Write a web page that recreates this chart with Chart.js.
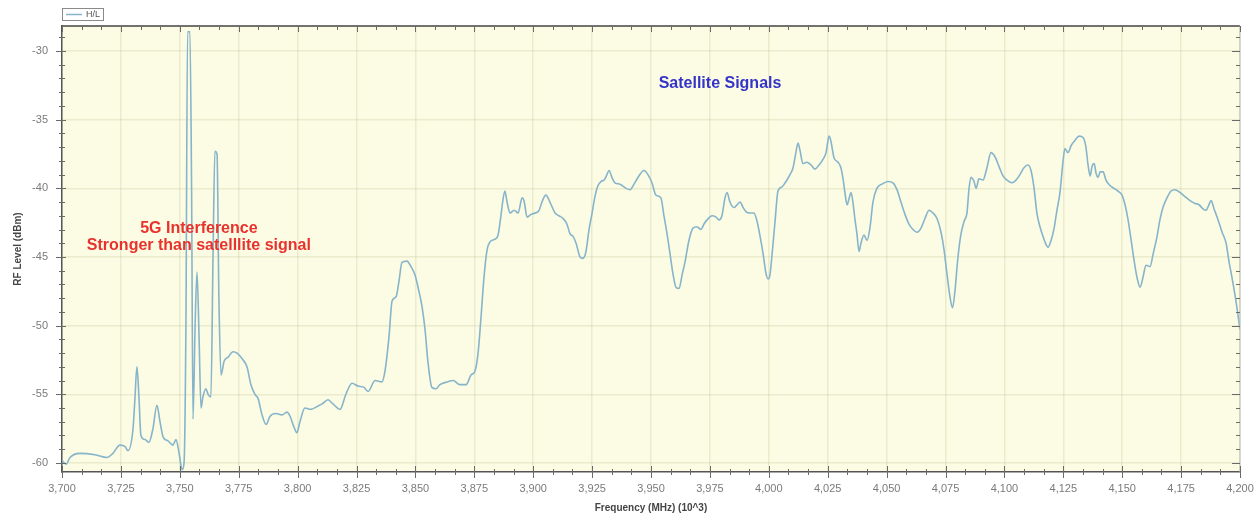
<!DOCTYPE html>
<html><head><meta charset="utf-8">
<script src="https://cdn.jsdelivr.net/npm/chart.js@4.4.1/dist/chart.umd.min.js"></script>
<style>html,body{margin:0;padding:0;background:#fff}#wrap{width:1257px;height:514px}</style>
</head><body><div id="wrap"><canvas id="c" width="1257" height="514"></canvas></div>
<script>
const seriesLabel = 'H/L';
const freqs = [
3700.0,3701.7,3703.4,3707.6,3714.0,3719.1,3721.6,3724.6,3726.7,3728.0,
3730.1,3730.9,3731.8,3732.6,3733.5,3735.2,3736.9,3738.6,3740.3,3741.6,
3742.9,3745.0,3747.1,3748.4,3749.7,3751.0,3751.8,3752.6,3753.3,3754.3,
3755.0,3755.6,3756.5,3757.3,3758.2,3759.0,3759.8,3761.1,3762.0,3763.2,
3764.1,3764.9,3765.8,3766.6,3767.5,3768.8,3770.5,3772.6,3774.3,3776.4,
3778.5,3780.2,3781.9,3783.2,3784.9,3786.6,3788.3,3790.8,3793.4,3795.5,
3796.8,3798.5,3799.7,3801.0,3803.1,3805.7,3808.2,3810.4,3812.9,3815.0,
3818.0,3820.5,3823.1,3825.6,3828.2,3829.9,3832.9,3835.8,3837.1,3838.8,
3840.1,3841.8,3843.0,3844.3,3846.4,3848.1,3849.8,3851.5,3852.8,3854.1,
3855.3,3857.0,3858.7,3860.4,3863.4,3866.0,3868.9,3871.5,3873.6,3875.3,
3876.6,3877.8,3879.1,3880.4,3881.7,3883.8,3885.1,3886.3,3887.2,3888.0,
3888.9,3890.2,3891.9,3893.6,3895.3,3896.1,3897.4,3899.1,3900.8,3902.5,
3903.7,3905.4,3907.1,3909.3,3910.9,3912.7,3914.3,3915.6,3916.9,3918.2,
3919.9,3921.1,3922.4,3923.7,3925.0,3926.2,3927.5,3928.8,3930.1,3931.3,
3932.2,3933.4,3934.7,3936.8,3939.4,3941.1,3942.8,3944.5,3947.0,3948.7,
3950.4,3952.1,3954.2,3955.5,3956.8,3958.1,3959.3,3960.6,3961.9,3963.2,
3964.4,3966.1,3967.8,3969.5,3971.2,3972.5,3973.8,3975.9,3977.6,3978.9,
3980.1,3981.4,3982.3,3983.5,3985.2,3986.5,3987.8,3989.1,3990.3,3992.0,
3993.7,3995.0,3996.3,3997.6,3998.8,3999.7,4000.5,4001.4,4002.6,4003.9,
4005.6,4007.3,4009.0,4010.3,4011.5,4012.4,4013.2,4014.5,4016.2,4017.9,
4019.6,4021.3,4023.0,4024.3,4025.6,4026.4,4027.7,4029.4,4030.6,4031.5,
4032.3,4033.2,4034.0,4034.9,4035.7,4036.6,4037.4,4038.3,4039.1,4040.4,
4041.7,4043.0,4044.2,4045.9,4048.0,4050.6,4052.7,4054.4,4056.1,4057.8,
4059.5,4061.2,4062.9,4064.6,4066.3,4068.0,4069.7,4071.4,4073.1,4074.4,
4075.6,4076.9,4078.0,4079.0,4080.3,4081.6,4082.9,4084.1,4085.0,4085.8,
4087.1,4088.0,4089.2,4090.9,4092.6,4094.3,4096.0,4097.7,4099.4,4101.1,
4103.2,4104.9,4106.6,4108.3,4110.0,4111.3,4112.6,4113.8,4115.1,4116.4,
4117.7,4118.5,4119.8,4121.1,4122.3,4123.6,4124.9,4125.7,4127.0,4128.3,
4130.0,4131.7,4133.4,4134.6,4135.5,4136.4,4137.2,4138.1,4138.9,4139.8,
4140.6,4141.9,4143.1,4144.8,4146.5,4148.2,4149.9,4151.2,4152.5,4153.8,
4155.0,4156.3,4157.6,4158.8,4160.1,4161.8,4163.1,4164.8,4166.0,4167.3,
4169.0,4170.7,4172.4,4174.5,4176.6,4178.8,4180.9,4182.6,4184.3,4185.6,
4186.8,4187.7,4189.0,4190.7,4192.4,4194.1,4195.3,4196.6,4197.9,4199.2,
4200.0];
const levels = [
-59.8,-60.1,-59.6,-59.3,-59.4,-59.6,-59.3,-58.7,-58.8,-59.1,
-57.6,-55.5,-53.0,-55.0,-58.0,-58.3,-58.5,-57.5,-55.8,-57.0,
-58.1,-58.4,-58.7,-58.3,-59.3,-60.5,-60.0,-50.0,-28.6,-28.6,
-40.0,-56.8,-50.0,-46.1,-51.0,-56.0,-55.2,-54.6,-55.0,-55.2,
-45.0,-37.3,-37.5,-48.0,-53.6,-52.6,-52.3,-51.9,-52.0,-52.4,
-53.0,-54.3,-55.0,-55.3,-56.5,-57.2,-56.6,-56.4,-56.5,-56.3,
-56.6,-57.4,-57.8,-57.0,-56.0,-56.1,-55.9,-55.7,-55.4,-55.7,
-56.1,-55.0,-54.2,-54.4,-54.5,-54.8,-54.0,-54.1,-53.3,-50.8,
-48.2,-47.9,-46.8,-45.4,-45.3,-45.7,-46.3,-47.5,-48.6,-50.3,
-52.6,-54.5,-54.6,-54.3,-54.1,-54.0,-54.3,-54.3,-53.6,-53.3,
-52.0,-49.5,-46.5,-44.5,-43.9,-43.7,-43.4,-42.0,-40.8,-40.2,
-41.0,-41.8,-41.6,-41.8,-40.7,-40.9,-42.1,-41.9,-41.8,-41.6,
-41.0,-40.5,-41.0,-41.8,-42.0,-42.2,-42.6,-43.3,-43.5,-44.0,
-45.0,-45.1,-44.6,-43.0,-41.8,-40.6,-39.8,-39.5,-39.4,-39.0,
-38.7,-39.2,-39.6,-39.7,-40.0,-40.1,-39.7,-39.2,-38.7,-39.0,
-39.6,-40.5,-40.7,-42.0,-43.3,-44.8,-46.2,-47.2,-47.3,-46.3,
-45.4,-43.8,-42.9,-42.8,-43.0,-42.6,-42.3,-42.0,-42.1,-42.3,
-42.0,-40.7,-40.3,-41.0,-41.4,-41.2,-41.0,-41.4,-41.7,-41.8,
-41.8,-42.4,-43.5,-44.8,-46.2,-46.6,-46.3,-44.8,-42.5,-40.2,
-39.9,-39.5,-39.0,-38.5,-37.4,-36.7,-37.2,-38.2,-38.1,-38.3,
-38.6,-38.3,-37.9,-37.4,-36.2,-36.6,-37.8,-38.1,-38.5,-39.3,
-40.3,-41.2,-40.8,-40.3,-41.0,-42.3,-43.3,-44.6,-44.0,-43.4,
-43.8,-42.8,-41.0,-40.0,-39.7,-39.5,-39.6,-40.1,-41.0,-41.9,
-42.6,-43.0,-43.2,-42.9,-42.2,-41.6,-41.8,-42.2,-43.2,-44.5,
-46.2,-47.9,-48.7,-47.5,-45.0,-43.3,-42.4,-41.8,-40.0,-39.2,
-39.5,-40.0,-39.3,-39.4,-38.5,-37.4,-37.7,-38.4,-39.1,-39.4,
-39.6,-39.4,-39.0,-38.5,-38.3,-38.7,-40.0,-41.8,-42.8,-43.5,
-44.1,-44.3,-43.8,-42.9,-41.6,-40.3,-38.0,-37.1,-37.4,-36.9,
-36.5,-36.2,-36.3,-37.0,-38.3,-39.1,-38.4,-38.2,-38.9,-39.2,
-38.8,-38.8,-39.4,-39.8,-40.0,-40.2,-40.5,-41.2,-42.3,-43.8,
-45.2,-46.5,-47.2,-46.5,-45.6,-45.7,-44.8,-43.5,-42.3,-41.4,
-40.7,-40.2,-40.1,-40.3,-40.6,-40.9,-41.1,-41.2,-41.5,-41.6,
-41.2,-40.9,-41.5,-42.3,-43.2,-44.0,-45.3,-46.5,-47.8,-49.3,
-50.3];
const xTickValues = [3700,3725,3750,3775,3800,3825,3850,3875,3900,3925,3950,3975,4000,4025,4050,4075,4100,4125,4150,4175,4200];
const yTickValues = [-60,-55,-50,-45,-40,-35,-30];
const xTitle = 'Frequency (MHz) (10^3)';
const yTitle = 'RF Level (dBm)';
const noteInterference = ['5G Interference', 'Stronger than satelllite signal'];
const noteSatellite = 'Satellite Signals';

const FONT = "'Liberation Sans', Arial, sans-serif";

const bgPlugin = {
  id: 'plotBg',
  beforeDraw(chart) {
    const {ctx, chartArea: a} = chart;
    ctx.save();
    ctx.fillStyle = '#ffffff';
    ctx.fillRect(0, 0, chart.width, chart.height);
    ctx.fillStyle = '#fcfce4';
    ctx.fillRect(a.left, a.top, a.right - a.left, a.bottom - a.top);
    ctx.restore();
  }
};

const framePlugin = {
  id: 'frameTicks',
  afterDraw(chart) {
    const {ctx, chartArea: a, scales: {x, y}} = chart;
    ctx.save();
    ctx.strokeStyle = '#444'; ctx.lineWidth = 1.5;
    ctx.beginPath(); ctx.moveTo(a.left, a.top); ctx.lineTo(a.right, a.top); ctx.stroke();
    ctx.strokeStyle = '#b8b8b0'; ctx.lineWidth = 1;
    ctx.beginPath(); ctx.moveTo(a.right, a.top); ctx.lineTo(a.right, a.bottom); ctx.stroke();
    ctx.strokeStyle = '#6a6a6a'; ctx.lineWidth = 1;
    const xStep = (xTickValues[1] - xTickValues[0]) / 3;
    const nX = Math.round((xTickValues[xTickValues.length-1] - xTickValues[0]) / xStep);
    for (let i = 0; i <= nX; i++) {
      const px = Math.round(x.getPixelForValue(xTickValues[0] + i * xStep)) + 0.5;
      const major = i % 3 === 0;
      ctx.beginPath();
      ctx.moveTo(px, a.bottom - (major ? 6 : 3)); ctx.lineTo(px, a.bottom + (major ? 6 : 3));
      ctx.moveTo(px, a.top); ctx.lineTo(px, a.top + (major ? 6 : 4));
      ctx.stroke();
    }
    const yMin = yTickValues[0], yMax = yTickValues[yTickValues.length-1];
    for (let v = yMin; v <= yMax + 1; v++) {
      const py = Math.round(y.getPixelForValue(v)) + 0.5;
      if (py < a.top) continue;
      const major = v % 5 === 0;
      ctx.beginPath();
      ctx.moveTo(a.left - (major ? 6 : 3), py); ctx.lineTo(a.left + (major ? 4 : 3), py);
      ctx.moveTo(a.right - (major ? 8 : 4), py); ctx.lineTo(a.right, py);
      ctx.stroke();
    }
    ctx.restore();
  }
};

const notesPlugin = {
  id: 'notes',
  afterDatasetsDraw(chart) {
    const {ctx, scales: {x, y}} = chart;
    ctx.save();
    ctx.textAlign = 'center'; ctx.textBaseline = 'middle';
    ctx.font = 'bold 16px ' + FONT;
    ctx.fillStyle = '#e8322d';
    ctx.fillText(noteInterference[0], x.getPixelForValue(3758.1), y.getPixelForValue(-42.9));
    ctx.fillText(noteInterference[1], x.getPixelForValue(3758.1), y.getPixelForValue(-44.2));
    ctx.fillStyle = '#3434c8';
    ctx.fillText(noteSatellite, x.getPixelForValue(3979.3), y.getPixelForValue(-32.35));
    ctx.restore();
  }
};

const legendPlugin = {
  id: 'boxLegend',
  afterDraw(chart) {
    const {ctx} = chart;
    const ds = chart.data.datasets[0];
    ctx.save();
    ctx.fillStyle = '#ffffff';
    ctx.fillRect(62.5, 8.5, 41, 12);
    ctx.strokeStyle = '#8a8a8a'; ctx.lineWidth = 1;
    ctx.strokeRect(62.5, 8.5, 41, 12);
    ctx.strokeStyle = ds.borderColor; ctx.lineWidth = 1.5;
    ctx.beginPath(); ctx.moveTo(66, 14.5); ctx.lineTo(82, 14.5); ctx.stroke();
    ctx.fillStyle = '#555'; ctx.font = '9px ' + FONT;
    ctx.textBaseline = 'middle'; ctx.textAlign = 'left';
    ctx.fillText(ds.label, 86, 14.5);
    ctx.restore();
  }
};

const gridColor = 'rgba(200,198,160,0.32)';

new Chart(document.getElementById('c'), {
  type: 'line',
  data: {
    datasets: [{
      label: seriesLabel,
      data: freqs.map((f, i) => ({x: f, y: levels[i]})),
      borderColor: '#86b4ca',
      borderWidth: 1.6,
      pointRadius: 0,
      cubicInterpolationMode: 'monotone',
      fill: false
    }]
  },
  options: {
    responsive: false,
    animation: false,
    devicePixelRatio: 1,
    layout: {padding: {top: 26, right: 17, left: 0, bottom: 0}},
    plugins: {legend: {display: false}, tooltip: {enabled: false}, title: {display: false}},
    scales: {
      x: {
        type: 'linear', min: 3700, max: 4200,
        afterBuildTicks: s => { s.ticks = xTickValues.map(v => ({value: v})); },
        afterFit: s => { s.height = 42; s.paddingLeft = 0; s.paddingRight = 0; },
        ticks: {autoSkip: false, maxRotation: 0, padding: 10, color: '#7a7a7a',
          font: {size: 11, family: FONT},
          callback: v => Number(v).toLocaleString('en-US')},
        grid: {color: gridColor, lineWidth: 1.5, drawTicks: false},
        border: {display: true, color: '#555', width: 1.5},
        title: {display: true, text: xTitle, color: '#444',
          font: {size: 10, weight: 'bold', family: FONT}, padding: {top: 0, bottom: 0}}
      },
      y: {
        type: 'linear', min: -60.66, max: -28.18,
        afterBuildTicks: s => { s.ticks = yTickValues.map(v => ({value: v})); },
        afterFit: s => { s.width = 62; s.paddingTop = 0; s.paddingBottom = 0; },
        ticks: {padding: 14, color: '#7a7a7a', font: {size: 11, family: FONT}},
        grid: {color: gridColor, lineWidth: 1.5, drawTicks: false},
        border: {display: true, color: '#555', width: 1.5},
        title: {display: true, text: yTitle, color: '#444',
          font: {size: 10, weight: 'bold', family: FONT}, padding: {top: 12, bottom: 0}}
      }
    }
  },
  plugins: [bgPlugin, framePlugin, notesPlugin, legendPlugin]
});
</script></body></html>
